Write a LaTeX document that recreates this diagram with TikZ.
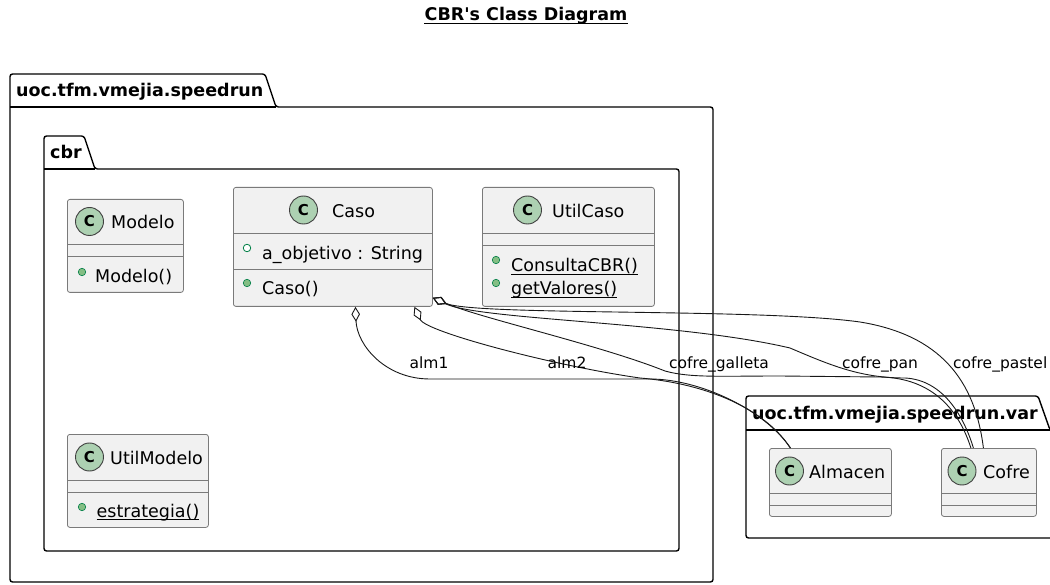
\documentclass[tikz,border=0pt]{standalone}
\usepackage{fontspec}
\setmainfont{DejaVu Sans}
\usetikzlibrary{arrows.meta}

\definecolor{clsfill}{HTML}{F1F1F1}
\definecolor{clsline}{HTML}{7A7A7A}
\definecolor{cgreen}{HTML}{ADD1B2}
\definecolor{pubfill}{HTML}{84BE84}
\definecolor{publine}{HTML}{038048}
\definecolor{relline}{HTML}{181818}

\newcommand\clsfont{\fontsize{17.5}{20}\selectfont}
\newcommand\relfont{\fontsize{15.5}{18}\selectfont}
\newcommand\statul[1]{\setbox0\hbox{#1}\rlap{\vrule height -2.4pt depth 3.4pt width \wd0}\box0}

\begin{document}
\begin{tikzpicture}[x=1pt,y=-1pt,
  pkg/.style={draw, line width=1.4pt, rounded corners=2.5pt},
  pkgname/.style={font=\clsfont\bfseries, anchor=base west, inner sep=0},
  cls/.style={draw=clsline, fill=clsfill, line width=.8pt, rounded corners=2.5pt, anchor=north west, inner sep=0},
  sep/.style={draw=clsline, line width=.8pt},
  cicon/.style={circle, draw=black!75, fill=cgreen, line width=.9pt, minimum size=28pt, inner sep=0, font=\fontsize{15}{15}\selectfont\bfseries},
  txt/.style={font=\clsfont, anchor=base west, inner sep=0},
  pub/.style={circle, draw=publine, fill=pubfill, minimum size=7.5pt, inner sep=0, line width=.6pt},
  fld/.style={circle, draw=publine, fill=white, minimum size=7.5pt, inner sep=0, line width=.8pt},
  agg/.style={draw=relline, line width=.9pt, {Diamond[open, length=15pt, width=8.5pt]}-},
  rellbl/.style={font=\relfont, anchor=base, inner sep=0}]

\clip (0,0) rectangle (1050,585);

\node[font=\clsfont\bfseries, anchor=base, inner sep=0] (title) at (526,21) {CBR\textquotesingle s Class Diagram};
\draw[line width=1.1pt] ([yshift=-2.5pt]title.base west) -- ([yshift=-2.5pt]title.base east);

% packages
\draw[pkg] (10,107) -- (10,74) -- (265,74) -- (276,107) -- (713,107) -- (713,582) -- (10,582) -- cycle;
\draw[pkg] (10,107) -- (276,107);
\node[pkgname] (speedrun) at (16,97) {uoc.tfm.vmejia.speedrun};

\draw[pkg] (44,169) -- (44,136) -- (84,136) -- (95,169) -- (679,169) -- (679,551) -- (44,551) -- cycle;
\draw[pkg] (44,169) -- (95,169);
\node[pkgname] (cbr) at (50,159) {cbr};

\draw[pkg] (746,430) -- (746,396) -- (1038,396) -- (1050,430) -- (1070,430) -- (1070,538) -- (746,538) -- cycle;
\draw[pkg] (746,430) -- (1050,430);
\node[pkgname] (var) at (752,419) {uoc.tfm.vmejia.speedrun.var};

% classes
\node[cls, minimum width=116pt, minimum height=93pt] (modelo) at (67,199) {};
\draw[sep] (67,244) -- (183,244) (67,256) -- (183,256);
\node[cicon] (modeloC) at (89.5,221.5) {C};
\node[txt] (modeloN) at (111,229) {Modelo};
\node[pub] (modeloM1i) at (82,272) {};
\node[txt] (modeloM1) at (95,283) {Modelo()};

\node[cls, minimum width=199pt, minimum height=119pt] (caso) at (233,187) {};
\draw[sep] (233,233) -- (432,233) (233,269) -- (432,269);
\node[cicon] (casoC) at (303.5,210) {C};
\node[txt] (casoN) at (332,217.5) {Caso};
\node[fld] (casoA1i) at (247,248) {};
\node[txt] (casoA1) at (262,259.5) {a\_objetivo : String};
\node[pub] (casoM1i) at (247,283) {};
\node[txt] (casoM1) at (262,295) {Caso()};

\node[cls, minimum width=172pt, minimum height=119pt] (utilcaso) at (482,187) {};
\draw[sep] (482,233) -- (654,233) (482,245) -- (654,245);
\node[cicon] (utilcasoC) at (527.5,210) {C};
\node[txt] (utilcasoN) at (552,217.5) {UtilCaso};
\node[pub] (utilcasoM1i) at (496,260) {};
\node[txt] (utilcasoM1) at (511,272) {\statul{ConsultaCBR()}};
\node[pub] (utilcasoM2i) at (496,283) {};
\node[txt] (utilcasoM2) at (511,295) {\statul{getValores()}};

\node[cls, minimum width=141pt, minimum height=93pt] (utilmodelo) at (67,434) {};
\draw[sep] (67,480) -- (208,480) (67,492) -- (208,492);
\node[cicon] (utilmodeloC) at (89.5,457) {C};
\node[txt] (utilmodeloN) at (110,464.5) {UtilModelo};
\node[pub] (utilmodeloM1i) at (82,507) {};
\node[txt] (utilmodeloM1) at (96.5,517) {\statul{estrategia()}};

\node[cls, minimum width=122pt, minimum height=68pt] (almacen) at (769,448) {};
\draw[sep] (769,493) -- (891,493) (769,505) -- (891,505);
\node[cicon] (almacenC) at (789.5,471) {C};
\node[txt] (almacenN) at (809,478.5) {Almacen};

\node[cls, minimum width=95pt, minimum height=68pt] (cofre) at (941,448) {};
\draw[sep] (941,493) -- (1036,493) (941,505) -- (1036,505);
\node[cicon] (cofreC) at (962,471) {C};
\node[txt] (cofreN) at (983,478.5) {Cofre};

% aggregations
\draw[agg] ([xshift=22.5pt]caso.south) .. controls (357,345) and (385,379) .. (430,379)
  -- (650,379) .. controls (700,379) and (765,410) .. ([xshift=-40pt]almacen.north);
\draw[agg] ([xshift=81.5pt]caso.south) .. controls (426,332) and (555,366) .. (640,378)
  .. controls (700,383) and (762,405) .. ([xshift=-40pt]almacen.north);
\draw[agg] ([yshift=9pt]caso.south east) .. controls (480,318) and (600,345) .. (665,371)
  .. controls (690,378) and (720,376) .. (780,376) -- (880,377)
  .. controls (940,378) and (962,420) .. ([xshift=-18pt]cofre.north);
\draw[agg] ([yshift=9pt]caso.south east) .. controls (480,320) and (680,322) .. (790,348)
  .. controls (830,365) and (860,378) .. (905,378)
  .. controls (945,380) and (965,420) .. ([xshift=-15.5pt]cofre.north);
\draw[agg] ([yshift=9pt]caso.south east) .. controls (475,316) and (760,308) .. (860,322)
  .. controls (940,335) and (975,380) .. ([xshift=-5.5pt]cofre.north);

\node[rellbl] (lalm1) at (429,368.5) {alm1};
\node[rellbl] (lalm2) at (567,368.5) {alm2};
\node[rellbl] (lgalleta) at (719,368.5) {cofre\_galleta};
\node[rellbl] (lpan) at (880,368.5) {cofre\_pan};
\node[rellbl, anchor=base west] (lpastel) at (953,368.5) {cofre\_pastel};
\end{tikzpicture}
\end{document}
